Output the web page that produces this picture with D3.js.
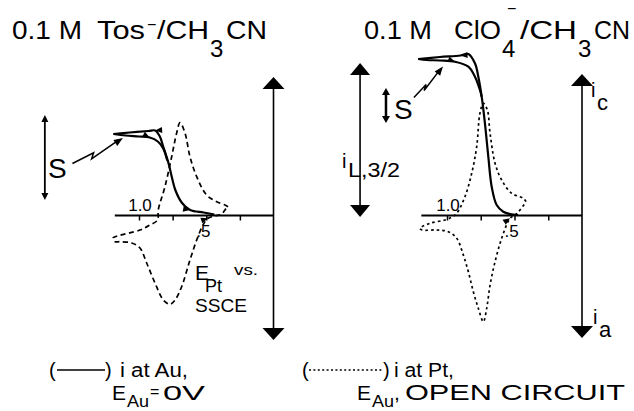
<!DOCTYPE html>
<html>
<head>
<meta charset="utf-8">
<script src="https://cdn.jsdelivr.net/npm/d3@7"></script>
<style>
  body { margin: 0; background: #fff; }
  svg { display: block; font-family: "Liberation Sans", Arial, sans-serif; }
</style>
</head>
<body>
<svg id="chart" width="634" height="411"></svg>
<script>
// E_Pt vs SSCE in volts, current in arbitrary units (cathodic up)
const tickValues = [1.0, 0.75, 0.5, 0.25];
const tickLabels = [[1.0, '1.0'], [0.5, '.5']];

// 0.1 M Tos- / CH3CN : i at Au (solid), two branches of the scan
const tosAuTop = [[1.19, 0.815], [1.07, 0.83], [0.93, 0.845], [0.88, 0.85], [0.845, 0.79], [0.82, 0.69],
    [0.78, 0.52], [0.757, 0.39], [0.73, 0.255], [0.68, 0.125], [0.62, 0.055], [0.52, 0.03], [0.44, 0.01]];
const tosAuBottom = [[1.19, 0.815], [1.10, 0.80], [1.00, 0.79], [0.92, 0.78], [0.86, 0.74], [0.82, 0.67], [0.79, 0.55]];
// i at Pt (dashed), closed loop
const tosPt = [[0.338, 0.088], [0.361, 0.105], [0.422, 0.138], [0.497, 0.205], [0.571, 0.388], [0.621, 0.588],
    [0.658, 0.825], [0.695, 0.928], [0.720, 0.825], [0.757, 0.588], [0.807, 0.288], [0.857, 0.055],
    [0.862, -0.045], [0.918, -0.095], [0.993, -0.145], [1.178, -0.212], [1.193, -0.225], [1.178, -0.262],
    [1.141, -0.262], [1.054, -0.275], [0.993, -0.325], [0.943, -0.475], [0.881, -0.675], [0.819, -0.845],
    [0.770, -0.888], [0.732, -0.845], [0.683, -0.712], [0.621, -0.445], [0.571, -0.245], [0.524, -0.095],
    [0.487, -0.028], [0.435, -0.005], [0.385, 0.015], [0.353, 0.07], [0.338, 0.088]];

// 0.1 M ClO4- / CH3CN
const cloAuTop = [[1.213, 1.565], [1.052, 1.585], [0.90, 1.60], [0.842, 1.615], [0.793, 1.522], [0.768, 1.388],
    [0.743, 1.188], [0.719, 0.922], [0.694, 0.588], [0.669, 0.288], [0.632, 0.105], [0.583, 0.038],
    [0.533, 0.015], [0.474, 0.005]];
const cloAuBottom = [[1.213, 1.565], [1.15, 1.555], [1.052, 1.55], [0.941, 1.538], [0.842, 1.488], [0.793, 1.388],
    [0.756, 1.255], [0.743, 1.188]];
const cloPt = [[0.415, 0.138], [0.435, 0.172], [0.521, 0.222], [0.595, 0.355], [0.644, 0.522], [0.681, 0.822],
    [0.701, 1.055], [0.731, 1.122], [0.756, 1.022], [0.780, 0.688], [0.817, 0.422], [0.867, 0.188],
    [0.928, 0.022], [0.963, -0.015], [1.015, -0.045], [1.126, -0.078], [1.20, -0.128], [1.185, -0.145],
    [1.076, -0.145], [0.99, -0.162], [0.928, -0.228], [0.879, -0.395], [0.842, -0.562], [0.805, -0.762],
    [0.768, -0.928], [0.731, -1.062], [0.706, -0.928], [0.681, -0.695], [0.644, -0.462], [0.595, -0.228],
    [0.533, -0.028], [0.496, 0.005], [0.459, 0.055], [0.415, 0.138]];

// sensitivity bars (current units)
const tosS = [0.155, 1.005];
const cloS = [0.925, 1.275];
const cloIL = [-0.015, 1.525];

const svg = d3.select('#chart');

const y = d3.scaleLinear().domain([-1.25, 1.4]).range([340.5, 75.5]);
const xTos = d3.scaleLinear().domain([0, 1]).range([273.5, 139]);
const xClo = d3.scaleLinear().domain([0, 1]).range([582, 447]);

// filled triangle, tip at (x, y), pointing along angle
function arrowHead(g, x, y0, angle, len, wid) {
    const c = Math.cos(angle), s = Math.sin(angle);
    const bx = x - c * len, by = y0 - s * len;
    const p = [[x, y0], [bx - s * wid / 2, by + c * wid / 2], [bx + s * wid / 2, by - c * wid / 2]];
    g.append('path').attr('d', 'M' + p.join('L') + 'Z').attr('fill', '#000');
}

function arrowAlong(g, x, pts, i, j) {
    const a = Math.atan2(y(pts[j][1]) - y(pts[i][1]), x(pts[j][0]) - x(pts[i][0]));
    arrowHead(g, x(pts[i][0]), y(pts[i][1]), a, 7, 6);
}

// axes: horizontal E axis with ticks, vertical current axis with big arrows
function drawAxes(g, x, eMax, iTop, iBottom) {
    g.append('g')
        .attr('transform', `translate(0,${y(0)})`)
        .call(d3.axisBottom(x).tickValues(tickValues).tickSize(5).tickSizeOuter(0).tickFormat(''))
        .call(a => a.select('.domain').remove())
        .selectAll('line').attr('stroke', '#000').attr('stroke-width', 1.5);

    g.append('line')
        .attr('x1', x(eMax)).attr('x2', x(0))
        .attr('y1', y(0)).attr('y2', y(0))
        .attr('stroke', '#000').attr('stroke-width', 2);

    g.append('line')
        .attr('x1', x(0)).attr('x2', x(0))
        .attr('y1', y(iTop) + 10).attr('y2', y(iBottom) - 10)
        .attr('stroke', '#000').attr('stroke-width', 1.6);
    arrowHead(g, x(0), y(iTop), -Math.PI / 2, 12, 22);
    arrowHead(g, x(0), y(iBottom), Math.PI / 2, 12, 22);
}

function bar(g, xp, range, len, wid, sw) {
    g.append('line')
        .attr('x1', xp).attr('x2', xp)
        .attr('y1', y(range[1]) + len - 1).attr('y2', y(range[0]) - len + 1)
        .attr('stroke', '#000').attr('stroke-width', sw);
    arrowHead(g, xp, y(range[1]), -Math.PI / 2, len, wid);
    arrowHead(g, xp, y(range[0]), Math.PI / 2, len, wid);
}

function lightning(g, p0, p1) {
    const dx = p1[0] - p0[0], dy = p1[1] - p0[1];
    const a = [p0[0] + dx * 0.42, p0[1] + dy * 0.42];
    const b = [a[0] - 2, a[1] + 6];
    g.append('path')
        .attr('d', `M${p0}L${a}L${b}L${p1[0] - dx * 0.1},${p1[1] - dy * 0.1}`)
        .attr('fill', 'none').attr('stroke', '#000').attr('stroke-width', 1.5);
    arrowHead(g, p1[0], p1[1], Math.atan2(p1[1] - b[1], p1[0] - b[0]), 9, 7);
}

function lineGen(x) {
    return d3.line().x(d => x(d[0])).y(d => y(d[1])).curve(d3.curveCatmullRom.alpha(0.5));
}

function drawPanel(g, x, auTop, auBottom, pt, dash) {
    const line = lineGen(x);
    g.append('path').datum(pt)
        .attr('fill', 'none').attr('stroke', '#000').attr('stroke-width', 1.7)
        .attr('stroke-dasharray', dash).attr('d', line);
    [auTop, auBottom].forEach(d => {
        g.append('path').datum(d)
            .attr('fill', 'none').attr('stroke', '#000').attr('stroke-width', 2.2)
            .attr('stroke-linejoin', 'round').attr('d', line);
    });
}

// ---------- left panel: Tos- ----------
const left = svg.append('g');
drawAxes(left, xTos, 1.18, 1.385, -1.245);
drawPanel(left, xTos, tosAuTop, tosAuBottom, tosPt, '5,3.5');
arrowAlong(left, xTos, tosAuTop, 3, 2);
arrowAlong(left, xTos, tosAuBottom, 3, 4);
arrowAlong(left, xTos, tosAuTop, 10, 11);
arrowAlong(left, xTos, tosPt, 30, 31);

// ---------- right panel: ClO4- ----------
const right = svg.append('g');
drawAxes(right, xClo, 1.19, 1.415, -1.225);
drawPanel(right, xClo, cloAuTop, cloAuBottom, cloPt, '2.6,3');
arrowAlong(right, xClo, cloAuTop, 2, 1);
arrowAlong(right, xClo, cloAuBottom, 3, 4);
arrowAlong(right, xClo, cloPt, 30, 31);

// tick labels
[xTos, xClo].forEach(x => {
    svg.append('text').attr('x', x(tickLabels[0][0]) + 1).attr('y', y(0) - 5)
        .attr('text-anchor', 'middle').attr('font-size', 17).text(tickLabels[0][1]);
    svg.append('text').attr('x', x(tickLabels[1][0]) - 10).attr('y', y(0) + 21)
        .attr('font-size', 17).text(tickLabels[1][1]);
});

// sensitivity bars and the S labels
bar(left, xTos(1.70), tosS, 7, 7, 1.8);
bar(right, xClo(1.452), cloS, 7, 8, 2.5);
bar(right, xClo(1.644), cloIL, 12, 20, 1.6);
lightning(left, [xTos(1.495), y(0.52)], [xTos(1.12), y(0.775)]);
lightning(right, [xClo(1.245), y(1.18)], [xClo(1.03), y(1.49)]);

// text piece at an absolute place, optionally fitted to a width
function txt(x, y0, size, str, len) {
    const t = svg.append('text').attr('x', x).attr('y', y0).attr('font-size', size).text(str);
    if (len) t.attr('textLength', len).attr('lengthAdjust', 'spacingAndGlyphs');
    return t;
}

// titles
txt(12, 39, 25, '0.1 M', 70);
txt(97, 39, 25, 'Tos', 48);
txt(147, 30, 16, '\u2212');
txt(157, 39, 25, '/CH', 52);
txt(210, 57, 24, '3');
txt(226, 39, 25, 'CN', 41);

txt(364, 39, 25, '0.1 M', 68);
txt(454, 39, 25, 'ClO', 47);
txt(502, 57, 24, '4');
txt(507, 14, 16, '\u2212');
txt(520, 39, 25, '/CH', 57);
txt(578, 57, 24, '3');
txt(594, 39, 25, 'CN', 36);

txt(48, 178, 28, 'S');
txt(394, 119, 28, 'S');
txt(342, 168, 20, 'i');
txt(348, 177, 20, 'L,3/2', 52);
txt(591, 97, 20, 'i');
txt(597, 110, 22, 'c');
txt(593, 324, 20, 'i');
txt(599, 337, 22, 'a');
txt(195, 280, 21, 'E');
txt(205, 292, 18, 'Pt');
txt(234, 275, 15, 'vs.', 24);
txt(195, 312, 19, 'SSCE', 52);

// legend
txt(49, 377, 20, '(');
svg.append('line').attr('x1', 57).attr('x2', 105).attr('y1', 370).attr('y2', 370)
    .attr('stroke', '#000').attr('stroke-width', 1.5);
txt(105, 377, 20, ')');
txt(120, 377, 20, 'i at Au,', 68);
txt(112, 400, 21, 'E');
txt(127, 407, 16, 'Au', 22);
txt(150, 397, 16, '=');
txt(163, 400, 21, '0V', 42);

txt(302, 377, 20, '(');
svg.append('line').attr('x1', 309).attr('x2', 383).attr('y1', 370).attr('y2', 370)
    .attr('stroke', '#000').attr('stroke-width', 1.5).attr('stroke-dasharray', '2,2.4');
txt(383, 377, 20, ')');
txt(394, 377, 20, 'i at Pt,', 60);
txt(357, 400, 21, 'E');
txt(372, 407, 16, 'Au', 22);
txt(394, 400, 21, ',');
txt(405, 400, 22, 'OPEN CIRCUIT', 220);
</script>
</body>
</html>
